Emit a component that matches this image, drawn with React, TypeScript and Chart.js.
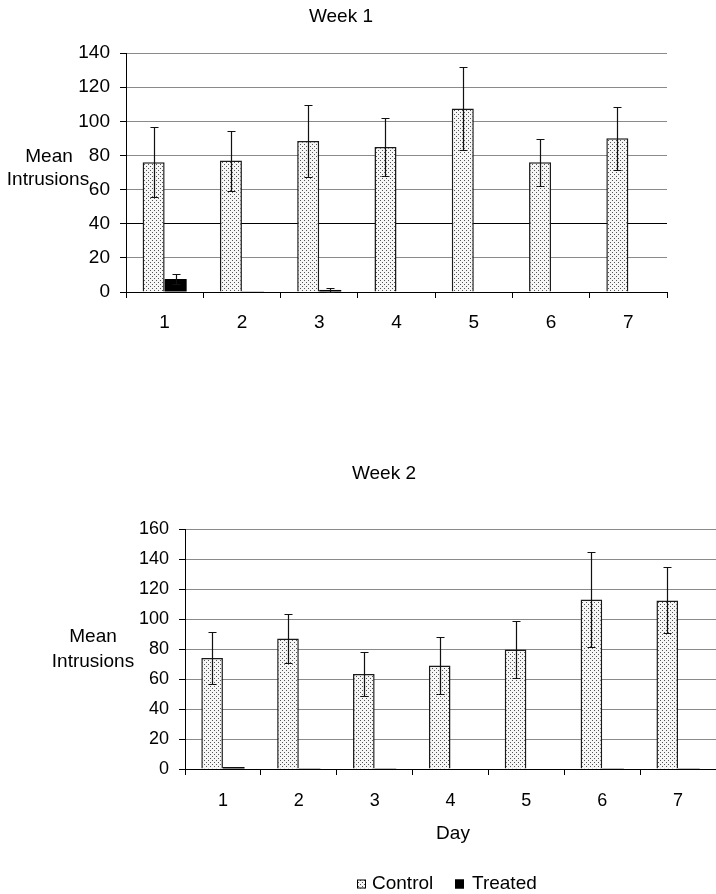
import React, { useEffect, useRef } from "react";
import { Chart, registerables } from "chart.js";
Chart.register(...registerables);

const FONT = "'Liberation Sans', Arial, Helvetica, sans-serif";

const days = ["1", "2", "3", "4", "5", "6", "7"];

const week1Control = [76, 77, 88.5, 85, 107.5, 76, 90];
const week1ControlErr = [20.6, 17.6, 21.3, 17, 24.4, 13.7, 18.5];
const week1Treated = [7.6, 0.4, 1.2, 0, 0, 0, 0];
const week1TreatedErr = [3, 0, 1.1, 0, 0, 0, 0];

const week2Control = [74, 87, 63.3, 69, 79.6, 113, 112.4];
const week2ControlErr = [17.3, 16.5, 14.6, 19, 19, 31.5, 22];
const week2Treated = [1.3, 0.5, 0.5, 0, 0, 0.5, 0.5];
const week2TreatedErr = [0, 0, 0, 0, 0, 0, 0];

const week1YMax = 140;
const week2YMax = 160;
const yStep = 20;

const seriesLabels = ["Control", "Treated"];

function makePattern(): CanvasPattern | string {
  const c = document.createElement("canvas");
  c.width = 4;
  c.height = 4;
  const g = c.getContext("2d");
  if (!g) return "#ddd";
  g.fillStyle = "#f6f6f6";
  g.fillRect(0, 0, 4, 4);
  g.fillStyle = "#555";
  g.fillRect(0, 0, 1, 1);
  g.fillRect(2, 2, 1, 1);
  return g.createPattern(c, "repeat") || "#ddd";
}

const errorBarPlugin = {
  id: "errorBars",
  afterDatasetsDraw(chart: any, _args: any, opts: any) {
    const errs: number[][] = opts.errors || [];
    const ctx = chart.ctx;
    const y = chart.scales.y;
    chart.data.datasets.forEach((ds: any, di: number) => {
      const e = errs[di];
      if (!e) return;
      const meta = chart.getDatasetMeta(di);
      meta.data.forEach((bar: any, i: number) => {
        const err = e[i];
        if (!err) return;
        const v = ds.data[i] as number;
        const x = Math.round(bar.x) + 0.5;
        const top = Math.round(y.getPixelForValue(v + err)) + 0.5;
        const bot = Math.round(y.getPixelForValue(v - err)) + 0.5;
        ctx.save();
        ctx.strokeStyle = "#111";
        ctx.lineWidth = 1.2;
        ctx.beginPath();
        ctx.moveTo(x, top);
        ctx.lineTo(x, bot);
        ctx.moveTo(x - 4, top);
        ctx.lineTo(x + 4, top);
        ctx.moveTo(x - 4, bot);
        ctx.lineTo(x + 4, bot);
        ctx.stroke();
        ctx.restore();
      });
    });
  },
};

type TextItem = { text: string; x: number; y: number; align?: CanvasTextAlign; size?: number };
type LegendItem = { label: string; boxX: number; textX: number; y: number; fill: any };

const textPlugin = {
  id: "freeText",
  afterDraw(chart: any, _args: any, opts: any) {
    const ctx = chart.ctx;
    const items: TextItem[] = opts.items || [];
    ctx.save();
    ctx.fillStyle = "#000";
    ctx.textBaseline = "middle";
    items.forEach((it) => {
      ctx.font = `${it.size || 19}px ${FONT}`;
      ctx.textAlign = it.align || "center";
      ctx.fillText(it.text, it.x, it.y);
    });
    const legend: LegendItem[] = opts.legend || [];
    legend.forEach((l) => {
      ctx.fillStyle = l.fill;
      ctx.fillRect(l.boxX, l.y - 4.5, 9, 9);
      ctx.strokeStyle = "#000";
      ctx.lineWidth = 1;
      ctx.strokeRect(l.boxX + 0.5, l.y - 4, 8, 8);
      ctx.fillStyle = "#000";
      ctx.font = `19px ${FONT}`;
      ctx.textAlign = "left";
      ctx.fillText(l.label, l.textX, l.y);
    });
    ctx.restore();
  },
};

function buildConfig(
  control: number[],
  controlErr: number[],
  treated: number[],
  treatedErr: number[],
  yMax: number,
  yWidth: number,
  xHeight: number,
  padding: { top: number; right: number },
  tickSize: number,
  xPad: number,
  gridColorFn: (v: number) => string,
  texts: TextItem[],
  legend: LegendItem[],
  pattern: any
): any {
  return {
    type: "bar",
    data: {
      labels: days,
      datasets: [
        {
          label: seriesLabels[0],
          data: control,
          backgroundColor: pattern,
          borderColor: "#1a1a1a",
          borderWidth: 1.5,
          borderSkipped: "bottom",
          categoryPercentage: 0.57,
          barPercentage: 1.0,
        },
        {
          label: seriesLabels[1],
          data: treated,
          backgroundColor: "#000",
          borderWidth: 0,
          categoryPercentage: 0.57,
          barPercentage: 1.0,
        },
      ],
    },
    options: {
      responsive: false,
      animation: false,
      layout: { padding: { top: padding.top, right: padding.right, left: 0, bottom: 0 } },
      plugins: {
        legend: { display: false },
        title: { display: false },
        tooltip: { enabled: false },
        errorBars: { errors: [controlErr, treatedErr] },
        freeText: { items: texts, legend },
      },
      scales: {
        x: {
          grid: {
            offset: true,
            drawOnChartArea: false,
            drawTicks: true,
            tickLength: 6,
            tickColor: "#000",
            tickWidth: 1,
          },
          border: { color: "#000", width: 1 },
          ticks: { color: "#000", font: { family: FONT, size: tickSize }, padding: xPad },
          afterFit: (s: any) => {
            s.height = xHeight;
          },
        },
        y: {
          min: 0,
          max: yMax,
          ticks: { stepSize: yStep, color: "#000", font: { family: FONT, size: tickSize }, padding: 10 },
          grid: {
            color: (c: any) => gridColorFn(c.tick ? c.tick.value : -1),
            tickColor: "#000",
            tickLength: 6,
            lineWidth: 1,
          },
          border: { color: "#000", width: 1 },
          afterFit: (s: any) => {
            s.width = yWidth;
          },
        },
      },
    },
    plugins: [errorBarPlugin, textPlugin],
  };
}

export default function App() {
  const ref1 = useRef<HTMLCanvasElement | null>(null);
  const ref2 = useRef<HTMLCanvasElement | null>(null);

  useEffect(() => {
    const pattern = makePattern();
    const c1 = new Chart(
      ref1.current as HTMLCanvasElement,
      buildConfig(
        week1Control,
        week1ControlErr,
        week1Treated,
        week1TreatedErr,
        week1YMax,
        126,
        48,
        { top: 53, right: 49 },
        19,
        13,
        (v) => (v === 40 ? "#000" : "#8a8a8a"),
        [
          { text: "Week 1", x: 341, y: 17 },
          { text: "Mean", x: 49, y: 157 },
          { text: "Intrusions", x: 48, y: 180 },
        ],
        [],
        pattern
      )
    );
    const c2 = new Chart(
      ref2.current as HTMLCanvasElement,
      buildConfig(
        week2Control,
        week2ControlErr,
        week2Treated,
        week2TreatedErr,
        week2YMax,
        185,
        125,
        { top: 89, right: 0 },
        18,
        15,
        () => "#8a8a8a",
        [
          { text: "Week 2", x: 384, y: 34 },
          { text: "Mean", x: 93, y: 197 },
          { text: "Intrusions", x: 93, y: 222 },
          { text: "Day", x: 453, y: 394 },
        ],
        [
          { label: "Control", boxX: 357, textX: 372, y: 444, fill: pattern },
          { label: "Treated", boxX: 455, textX: 472, y: 444, fill: "#000" },
        ],
        pattern
      )
    );
    return () => {
      c1.destroy();
      c2.destroy();
    };
  }, []);

  return (
    <div style={{ position: "absolute", left: 0, top: 0, width: 716, height: 894, background: "#fff" }}>
      <canvas ref={ref1} width={716} height={340} style={{ position: "absolute", left: 0, top: 0 }} />
      <canvas ref={ref2} width={716} height={454} style={{ position: "absolute", left: 0, top: 440 }} />
    </div>
  );
}
